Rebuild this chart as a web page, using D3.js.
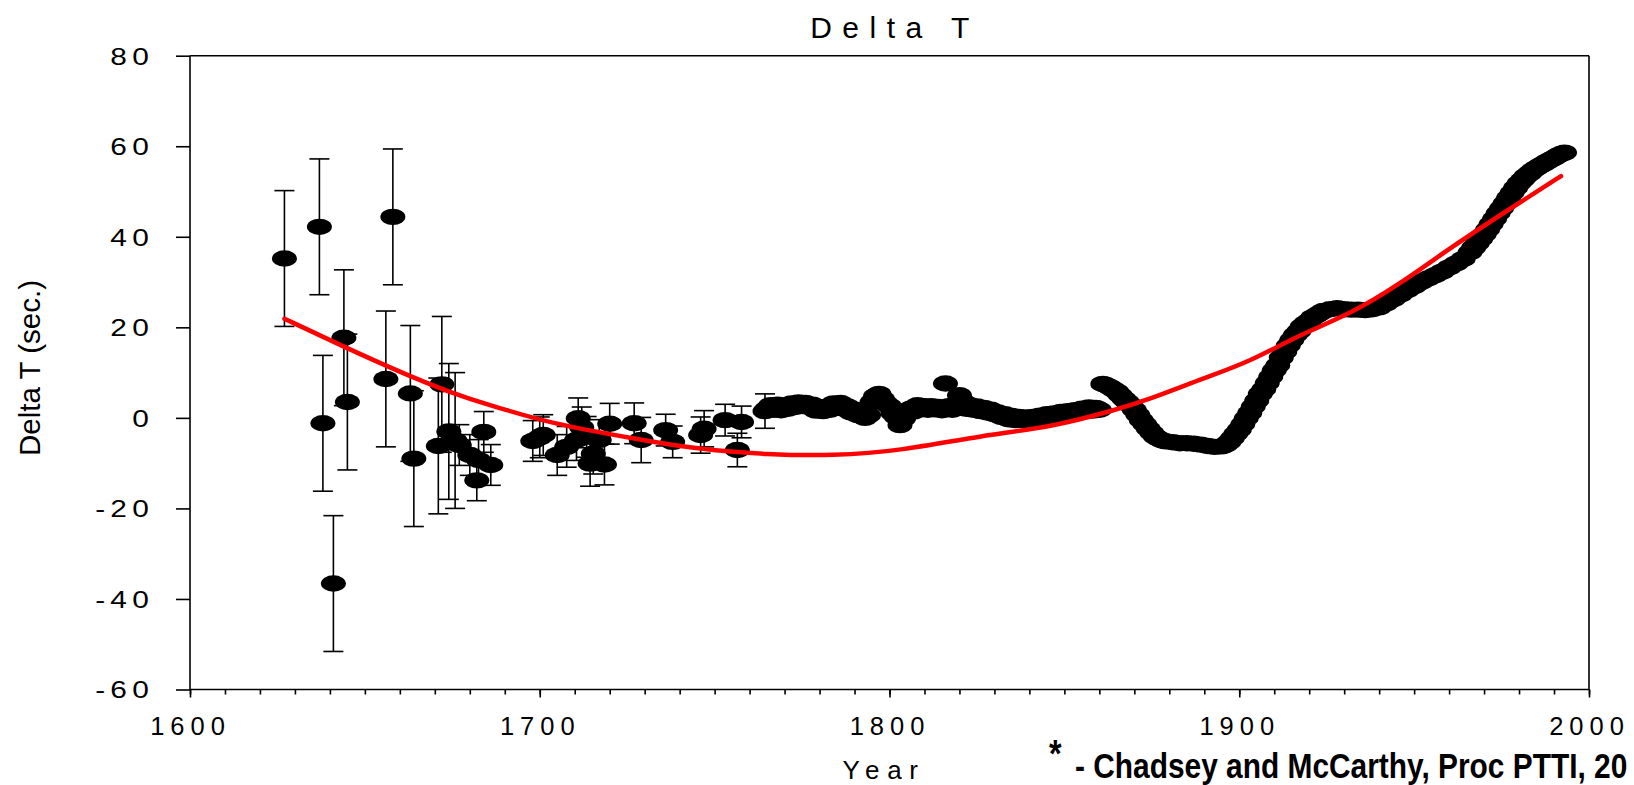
<!DOCTYPE html>
<html>
<head>
<meta charset="utf-8">
<script src="https://cdn.jsdelivr.net/npm/d3@7"></script>
<style>
  body { margin: 0; background: #fff; }
  svg { display: block; }
</style>
</head>
<body>
<div id="chart"></div>
<script>
var svgWidth = 1634;
var svgHeight = 785;

// early observations, drawn with error bars
var errYears = [1627, 1637, 1638, 1641, 1644, 1645, 1656, 1658, 1663, 1664, 1671, 1672, 1674, 1675.8,
    1677, 1680, 1682, 1682.5, 1684, 1686,
    1698, 1700, 1701, 1705, 1707.7, 1710.5, 1711, 1712, 1713.4, 1714.4, 1715.3, 1717, 1718.5, 1720,
    1727, 1729, 1736, 1738, 1746, 1747, 1753, 1756.5, 1757.7, 1764.4];
var errValues = [35.2, 42.2, -1.2, -36.6, 17.7, 3.5, 8.6, 44.4, 5.4, -9.0, -6.2, 7.4, -3.0, -5.0,
    -6.0, -8.2, -13.8, -9.3, -3.1, -10.4,
    -5.1, -4.3, -3.8, -8.2, -6.4, -4.9, -0.1, -2.1, -4.2, -10.1, -7.9, -4.9, -10.3, -1.3,
    -1.2, -4.9, -2.7, -5.3, -3.8, -2.4, -0.5, -7.1, -0.9, 1.5];
var errSizes = [15, 15, 15, 15, 15, 15, 15, 15, 15, 15, 15, 15, 15, 15,
    4.5, 4.5, 4.5, 4.5, 4.5, 4.5,
    4.5, 4.5, 4.5, 4.5, 4.5, 4.5, 4.5, 4.5, 4.5, 5, 4.5, 4.5, 4.5, 4.5,
    4.5, 5, 3.5, 3.5, 4, 4, 3.5, 3.7, 3.5, 3.8];

// later observations, no error bars
var obsYears = d3.range(1765, 1861).concat([1861, 1862, 1863, 1864, 1865, 1866, 1867, 1868, 1869, 1870, 1871, 1872, 1873,
    1874, 1875, 1876, 1877, 1878, 1879, 1881, 1883, 1885, 1887, 1889, 1891, 1893, 1895, 1896, 1897,
    1898, 1899, 1900, 1901, 1902, 1903, 1904, 1905, 1906, 1907, 1908, 1909, 1910, 1911, 1912, 1913,
    1914, 1915, 1916, 1917, 1918, 1919, 1920, 1921, 1922, 1923, 1924, 1926, 1928, 1930, 1932, 1934,
    1936, 1938, 1940, 1942, 1944, 1946, 1948, 1950, 1952, 1954, 1956, 1958, 1960, 1962, 1964, 1966,
    1967, 1968, 1969, 1970, 1971, 1972, 1973, 1974, 1975, 1976, 1977, 1978, 1979, 1980, 1981, 1982,
    1983, 1984, 1985, 1986, 1987, 1988, 1989, 1990, 1991, 1992, 1993]);
var obsValues = [
    // 1765 - 1860, one per year
    2.0, 2.8, 1.8, 2.9, 1.7, 2.6, 2.0, 3.2, 2.4, 3.4, 2.6, 3.3, 2.4, 2.9, 1.6, 2.4, 1.5, 2.3, 1.8, 3.2,
    2.5, 3.3, 2.0, 2.5, 1.2, 1.8, 0.6, 1.2, 0.0, 0.6, 3.5, 4.8, 5.3, 4.2, 3.2, 2.6, 1.0, 0.2, -1.6, -0.2,
    1.2, 2.0, 1.4, 2.8, 2.0, 2.6, 1.8, 2.6, 1.9, 2.4, 1.7, 7.6, 2.6, 1.8, 3.0, 5.0, 3.6, 2.0, 2.8, 1.8,
    2.5, 1.5, 2.2, 1.2, 1.8, 0.8, 1.2, 0.2, 0.8, -0.3, 0.4, -0.5, 0.2, -0.5, 0.1, -0.4, 0.2, -0.2, 0.5, 0.0,
    0.8, 0.3, 1.0, 0.6, 1.3, 0.8, 1.5, 1.0, 1.7, 1.2, 2.0, 1.5, 2.3, 1.6, 2.2, 1.8,
    // 1861 onwards
    7.5, 7.2, 6.8, 6.3, 5.8, 5.0, 4.2, 3.5, 2.8, 1.8, 0.7, -0.5, -1.4,
    -2.4, -3.3, -4.1, -4.6, -5.0, -5.2, -5.4, -5.6, -5.6, -5.7, -5.9, -6.2, -6.4, -6.3, -6.0, -5.4,
    -4.5, -3.5, -2.6, -1.4, -0.1, 1.1, 2.5, 3.8, 5.3, 6.3, 7.7, 9.1, 10.5, 11.6, 13.3, 14.6,
    16.0, 17.2, 18.3, 19.1, 20.2, 20.9, 21.4, 22.2, 22.6, 23.1, 23.6, 24.0, 24.2, 24.0, 23.9, 23.9,
    23.8, 24.0, 24.4, 25.3, 26.2, 27.2, 28.2, 29.1, 30.0, 30.8, 31.5, 32.3, 33.2, 34.1, 35.1, 36.6,
    37.6, 38.5, 39.5, 40.5, 41.6, 42.8, 44.0, 45.2, 46.3, 47.4, 48.6, 49.7, 50.8, 51.8, 52.6, 53.4,
    54.0, 54.7, 55.2, 55.7, 56.1, 56.6, 57.0, 57.4, 57.9, 58.3, 58.6];

// red fitted curve
var fitYears = [1627, 1644, 1663, 1679, 1689, 1703, 1727, 1746, 1765, 1784, 1803, 1827, 1846, 1865,
    1875, 1890, 1903, 1917, 1932, 1946, 1960, 1979, 1992];
var fitValues = [21.9, 15.7, 9.1, 4.3, 2.1, -1.2, -4.6, -7.0, -8.1, -8.4, -7.3, -3.8, -2.1, 1.8,
    4.3, 8.8, 12.4, 18.3, 23.0, 29.6, 37.4, 47.0, 53.4];

var yTicks = [-60, -40, -20, 0, 20, 40, 60, 80];
var xMajorTicks = [1600, 1700, 1800, 1900, 2000];
var xMinorTicks = d3.range(1600, 2001, 10);

var fontFamily = "'Liberation Sans', Arial, Helvetica, sans-serif";

var svg = d3.select("#chart")
    .append("svg")
    .attr("width", svgWidth)
    .attr("height", svgHeight);

var xScale = d3.scaleLinear().domain([1600, 2000]).range([190, 1589]);
var yScale = d3.scaleLinear().domain([-60, 80]).range([689.5, 55.7]);

// plot box
var box = svg.append("g").attr("stroke", "#000").attr("stroke-width", 1.6).attr("fill", "none");
box.append("line").attr("x1", xScale(1600)).attr("x2", xScale(2000)).attr("y1", yScale(80)).attr("y2", yScale(80));
box.append("line").attr("x1", xScale(2000)).attr("x2", xScale(2000)).attr("y1", yScale(80)).attr("y2", yScale(-60));
box.append("line").attr("x1", xScale(1600)).attr("x2", xScale(2000)).attr("y1", yScale(-60)).attr("y2", yScale(-60));
box.append("line").attr("x1", xScale(1600)).attr("x2", xScale(1600)).attr("y1", yScale(80)).attr("y2", yScale(-60));

// y axis
var leftAxis = d3.axisLeft(yScale)
    .tickValues(yTicks)
    .tickSize(14)
    .tickFormat(d => String(d));

var yAxisGroup = svg.append("g")
    .attr("transform", `translate(${xScale(1600)}, 0)`)
    .call(leftAxis);
yAxisGroup.select(".domain").remove();
yAxisGroup.attr("font-family", fontFamily).attr("font-size", 23);
yAxisGroup.selectAll(".tick line").attr("stroke", "#000").attr("stroke-width", 1.6);
yAxisGroup.selectAll(".tick text")
    .attr("x", null)
    .attr("dy", null)
    .attr("fill", "#000")
    .attr("text-anchor", "end")
    .attr("transform", "translate(-36, 8.3) scale(1.3, 1)")
    .style("letter-spacing", "4px");

// x axis: minor ticks then major ticks with labels
var minorAxis = d3.axisBottom(xScale).tickValues(xMinorTicks).tickSize(5).tickFormat("");
var xMinorGroup = svg.append("g")
    .attr("transform", `translate(0, ${yScale(-60)})`)
    .call(minorAxis);
xMinorGroup.select(".domain").remove();
xMinorGroup.selectAll(".tick line").attr("stroke", "#000").attr("stroke-width", 1.6);

var bottomAxis = d3.axisBottom(xScale).tickValues(xMajorTicks).tickSize(8).tickFormat(d => String(d));
var xAxisGroup = svg.append("g")
    .attr("transform", `translate(0, ${yScale(-60)})`)
    .call(bottomAxis);
xAxisGroup.select(".domain").remove();
xAxisGroup.attr("font-family", fontFamily).attr("font-size", 25.5);
xAxisGroup.selectAll(".tick text")
    .attr("y", 45.5)
    .attr("dy", null)
    .attr("dx", 0)
    .attr("fill", "#000")
    .style("letter-spacing", "6px");
xAxisGroup.selectAll(".tick line").attr("stroke", "#000").attr("stroke-width", 1.6);

// data: error bars
var errGroup = svg.append("g").attr("stroke", "#000").attr("stroke-width", 1.6);
errYears.forEach((yr, i) => {
    var cx = xScale(yr);
    var top = yScale(errValues[i] + errSizes[i]);
    var bot = yScale(errValues[i] - errSizes[i]);
    errGroup.append("line").attr("x1", cx).attr("x2", cx).attr("y1", top).attr("y2", bot);
    errGroup.append("line").attr("x1", cx - 10).attr("x2", cx + 10).attr("y1", top).attr("y2", top);
    errGroup.append("line").attr("x1", cx - 10).attr("x2", cx + 10).attr("y1", bot).attr("y2", bot);
});

// data: ellipses
var pointData = errYears.map((yr, i) => ({ year: yr, value: errValues[i] }))
    .concat(obsYears.map((yr, i) => ({ year: yr, value: obsValues[i] })));

svg.append("g")
    .selectAll("ellipse")
    .data(pointData)
    .enter()
    .append("ellipse")
    .attr("cx", d => xScale(d.year))
    .attr("cy", d => yScale(d.value))
    .attr("rx", 12.5)
    .attr("ry", 8.2)
    .attr("fill", "#000");

// fitted curve
var fitLine = d3.line()
    .x(d => xScale(d[0]))
    .y(d => yScale(d[1]))
    .curve(d3.curveBasis);

svg.append("path")
    .datum(fitYears.map((yr, i) => [yr, fitValues[i]]))
    .attr("d", fitLine)
    .attr("fill", "none")
    .attr("stroke", "#ff0000")
    .attr("stroke-width", 4.5)
    .attr("stroke-linecap", "round");

// titles
svg.append("text")
    .attr("x", 895)
    .attr("y", 38)
    .attr("text-anchor", "middle")
    .attr("font-family", fontFamily)
    .attr("font-size", 30)
    .style("letter-spacing", "10.5px")
    .text("Delta T");

svg.append("text")
    .attr("transform", "translate(39.5, 368) rotate(-90)")
    .attr("text-anchor", "middle")
    .attr("font-family", fontFamily)
    .attr("font-size", 29.5)
    .text("Delta T (sec.)");

svg.append("text")
    .attr("x", 884)
    .attr("y", 779)
    .attr("text-anchor", "middle")
    .attr("font-family", fontFamily)
    .attr("font-size", 26)
    .style("letter-spacing", "7.6px")
    .text("Year");

// footnote (narrow bold look)
svg.append("text")
    .attr("transform", "translate(1049, 767) scale(0.85, 1)")
    .attr("font-family", fontFamily)
    .attr("font-weight", "bold")
    .attr("font-size", 38)
    .text("*");

svg.append("text")
    .attr("transform", "translate(1075, 778) scale(0.83, 1)")
    .attr("font-family", fontFamily)
    .attr("font-weight", "bold")
    .attr("font-size", 36)
    .text("- Chadsey and McCarthy, Proc PTTI, 20");
</script>
</body>
</html>
